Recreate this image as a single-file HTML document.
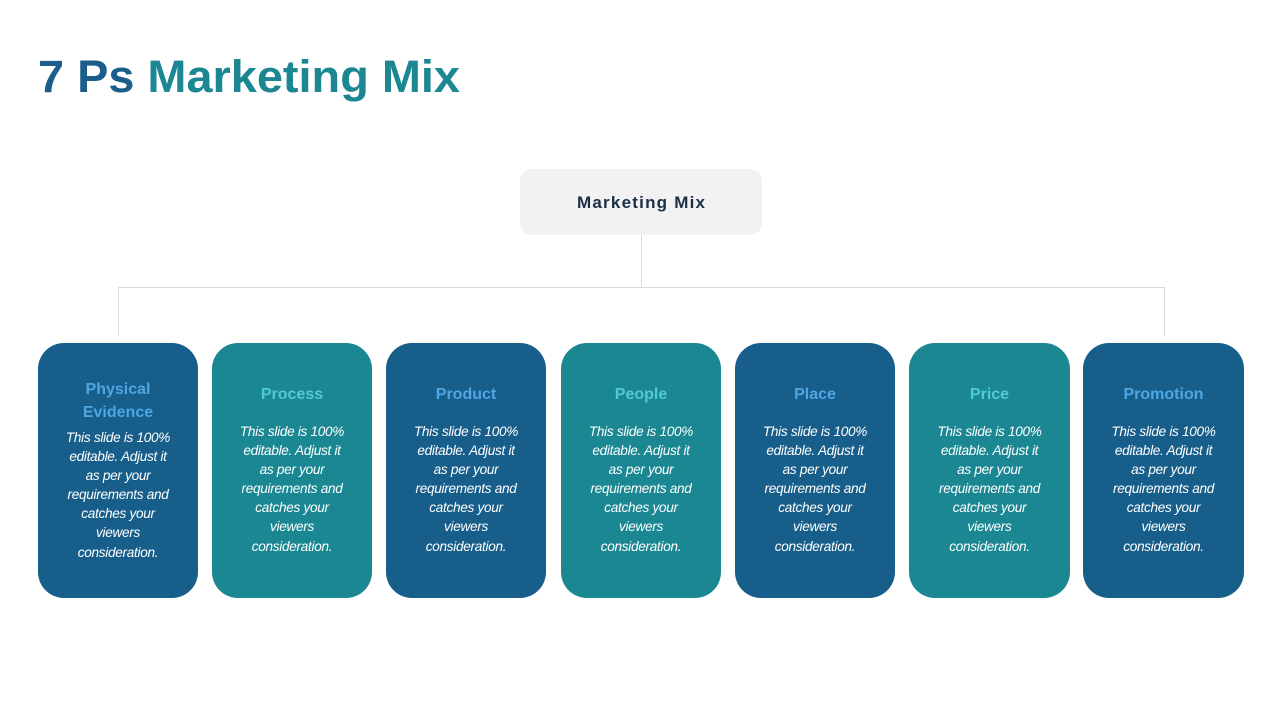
<!DOCTYPE html>
<html><head><meta charset="utf-8"><style>
html,body{margin:0;padding:0;background:#fff;}
body{width:1280px;height:720px;position:relative;overflow:hidden;font-family:"Liberation Sans",sans-serif;}
.box{position:absolute;top:343px;width:160px;height:255px;border-radius:26px;text-align:center;color:#fff;}
.b{background:#175E8A;}.t{background:#1A8793;}
.h{position:absolute;left:0;right:0;font-weight:bold;font-size:16px;line-height:23px;}
.b .h{color:#4EA6E2;}.t .h{color:#4FCAD8;}
.p{position:absolute;left:0;right:0;font-style:italic;font-size:13.6px;line-height:19.1px;letter-spacing:-0.3px;}
</style></head><body>
<svg width="1280" height="720" style="position:absolute;left:0;top:0">
<text x="38" y="92" font-family="Liberation Sans" font-weight="bold" font-size="45" textLength="422" lengthAdjust="spacingAndGlyphs"><tspan fill="#1B5E8C">7 Ps </tspan><tspan fill="#1A8793">Marketing Mix</tspan></text>
<rect x="520" y="169" width="242" height="66" rx="12" fill="#F2F2F2"/>
<text x="641" y="208" text-anchor="middle" font-family="Liberation Sans" font-weight="bold" font-size="17" fill="#1A2E45" textLength="128" lengthAdjust="spacing">Marketing  Mix</text>
<g stroke="#D9D9D9" stroke-width="1" fill="none">
<line x1="641.5" y1="235" x2="641.5" y2="287.5"/>
<line x1="118.5" y1="287.5" x2="1164.5" y2="287.5"/>
<line x1="118.5" y1="287" x2="118.5" y2="336"/>
<line x1="1164.5" y1="287" x2="1164.5" y2="336"/>
</g>
</svg>
<div class="box b" style="left:38px"><div class="h" style="top:35px">Physical<br>Evidence</div><div class="p" style="top:85px">This slide is 100%<br>editable. Adjust it<br>as per your<br>requirements and<br>catches your<br>viewers<br>consideration.</div></div>
<div class="box t" style="left:212px"><div class="h" style="top:40px">Process</div><div class="p" style="top:79px">This slide is 100%<br>editable. Adjust it<br>as per your<br>requirements and<br>catches your<br>viewers<br>consideration.</div></div>
<div class="box b" style="left:386px"><div class="h" style="top:40px">Product</div><div class="p" style="top:79px">This slide is 100%<br>editable. Adjust it<br>as per your<br>requirements and<br>catches your<br>viewers<br>consideration.</div></div>
<div class="box t" style="left:561px"><div class="h" style="top:40px">People</div><div class="p" style="top:79px">This slide is 100%<br>editable. Adjust it<br>as per your<br>requirements and<br>catches your<br>viewers<br>consideration.</div></div>
<div class="box b" style="left:735px"><div class="h" style="top:40px">Place</div><div class="p" style="top:79px">This slide is 100%<br>editable. Adjust it<br>as per your<br>requirements and<br>catches your<br>viewers<br>consideration.</div></div>
<div class="box t" style="left:909px;width:161px"><div class="h" style="top:40px">Price</div><div class="p" style="top:79px">This slide is 100%<br>editable. Adjust it<br>as per your<br>requirements and<br>catches your<br>viewers<br>consideration.</div></div>
<div class="box b" style="left:1083px;width:161px"><div class="h" style="top:40px">Promotion</div><div class="p" style="top:79px">This slide is 100%<br>editable. Adjust it<br>as per your<br>requirements and<br>catches your<br>viewers<br>consideration.</div></div>
</body></html>
